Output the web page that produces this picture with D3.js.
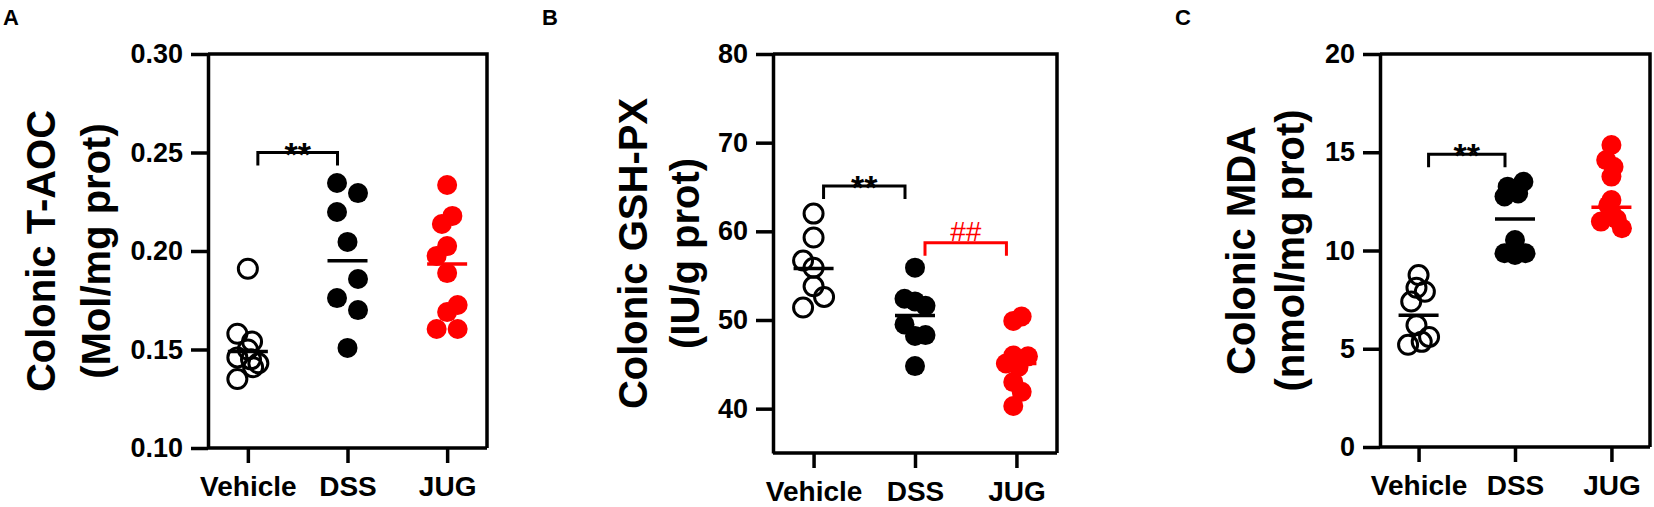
<!DOCTYPE html>
<html>
<head>
<meta charset="utf-8">
<script src="https://cdn.jsdelivr.net/npm/d3@7"></script>
<style>
  body { margin: 0; background: #fff; }
  text { font-family: "Liberation Sans", Arial, sans-serif; }
</style>
</head>
<body>
<script>
// groups on the x axis
var categories = ["Vehicle", "DSS", "JUG"];

// A: colonic T-AOC
var aVehicle = [0.191, 0.158, 0.154, 0.150, 0.146, 0.145, 0.143, 0.141, 0.135];
var aDSS     = [0.2345, 0.2294, 0.2198, 0.2046, 0.1858, 0.1761, 0.170, 0.1508];
var aJUG     = [0.2335, 0.2178, 0.2137, 0.2025, 0.1975, 0.1888, 0.1726, 0.169, 0.1604, 0.1604];
var aMeans   = [0.149, 0.195, 0.1934];
var aTicks   = [0.10, 0.15, 0.20, 0.25, 0.30];

// B: colonic GSH-PX
var bVehicle = [62.0, 59.3, 56.7, 55.9, 53.8, 52.6, 51.4];
var bDSS     = [55.9, 52.4, 52.1, 51.6, 49.5, 48.2, 48.3, 44.8];
var bJUG     = [50.4, 49.9, 46.0, 45.9, 45.1, 44.7, 43.0, 41.9, 40.3];
var bMeans   = [55.8, 50.5, 45.1];
var bTicks   = [40, 50, 60, 70, 80];

// C: colonic MDA
var cVehicle = [8.75, 8.1, 7.9, 7.4, 6.2, 5.6, 5.35, 5.2];
var cDSS     = [13.5, 13.25, 12.9, 12.75, 10.53, 9.86, 9.86, 9.77];
var cJUG     = [15.37, 14.6, 14.26, 13.76, 12.57, 12.3, 11.9, 11.6, 11.47, 11.13];
var cMeans   = [6.7, 11.6, 12.2];
var cTicks   = [0, 5, 10, 15, 20];

// horizontal scatter of the dots, in dot widths (-1 left, 0 centre, 1 right)
var aJitter = [[0, -1, 0.4, 0, -1, 0.3, 1, 0.5, -1],
               [-1, 1, -1, 0, 1, -1, 1, 0],
               [0, 0.5, -0.5, 0, -1, 0, 1, 0, -1, 1]];
var bJitter = [[0, 0, -1, 0, 0, 1, -1],
               [0, -1, 0, 1, -1, 0, 1, 0],
               [0.5, -0.3, -0.3, 1.1, -1, 0.2, -0.3, 0.5, -0.3]];
var cJitter = [[0, -0.2, 0.6, -0.7, -0.2, 1, 0.3, -1],
               [0.8, -0.7, 0.3, -1, 0, -1, 1, 0],
               [0, -0.5, 0.2, 0, 0, -0.3, 0, 0.5, -1, 1]];

// significance brackets: [from group, to group, y value, label, colour]
var aMarks = [[0, 1, 0.25, "**", "#000"]];
var bMarks = [[0, 1, 65.1, "**", "#000"], [1, 2, 58.7, "##", "#ff0000"]];
var cMarks = [[0, 1, 14.9, "**", "#000"]];

var red = "#ff0000";
var groupStyle = [
    {fill: "none", stroke: "#000"},
    {fill: "#000", stroke: "none"},
    {fill: red, stroke: "none"}
];
var meanColor = ["#000", "#000", red];

var svg = d3.select("body").append("svg")
    .attr("width", 1654)
    .attr("height", 507);

var panels = [
    {letter: "A", letterX: 3, left: 208, right: 487, bottom: 448,
     domain: [0.10, 0.30], ticks: aTicks, fmt: d3.format(".2f"),
     title: ["Colonic T-AOC", "(Mol/mg prot)"], titleX: [55, 110],
     groups: [aVehicle, aDSS, aJUG], jitter: aJitter, means: aMeans, marks: aMarks},
    {letter: "B", letterX: 542, left: 773, right: 1057, bottom: 453,
     domain: [35, 80], ticks: bTicks, fmt: d3.format("d"),
     title: ["Colonic GSH-PX", "(IU/g prot)"], titleX: [647, 699],
     groups: [bVehicle, bDSS, bJUG], jitter: bJitter, means: bMeans, marks: bMarks},
    {letter: "C", letterX: 1175, left: 1380, right: 1650, bottom: 447,
     domain: [0, 20], ticks: cTicks, fmt: d3.format("d"),
     title: ["Colonic MDA", "(nmol/mg prot)"], titleX: [1255, 1304],
     groups: [cVehicle, cDSS, cJUG], jitter: cJitter, means: cMeans, marks: cMarks}
];

var plotTop = 54;
var r = 10;
var lw = 3.5;

panels.forEach(function(p) {
    var xScale = d3.scalePoint().domain(categories)
        .range([p.left, p.right]).padding(0.4);
    var yScale = d3.scaleLinear().domain(p.domain).range([p.bottom, plotTop]);

    var g = svg.append("g");

    g.append("text")
        .attr("x", p.letterX)
        .attr("y", 25)
        .style("font-size", "22px")
        .style("font-weight", "bold")
        .text(p.letter);

    // y title, two lines
    p.title.forEach(function(t, i) {
        g.append("text")
            .attr("transform", "translate(" + p.titleX[i] + "," + ((plotTop + p.bottom) / 2) + ") rotate(-90)")
            .attr("text-anchor", "middle")
            .style("font-size", "40px")
            .style("font-weight", "bold")
            .text(t);
    });

    // frame top + right
    g.append("path")
        .attr("d", "M" + p.left + "," + plotTop + "H" + p.right + "V" + p.bottom)
        .attr("fill", "none")
        .attr("stroke", "#000")
        .attr("stroke-width", lw);

    var yAxis = d3.axisLeft(yScale)
        .tickValues(p.ticks)
        .tickFormat(p.fmt)
        .tickSize(17)
        .tickSizeOuter(0)
        .tickPadding(8);

    var ya = g.append("g")
        .attr("transform", "translate(" + p.left + ",0)")
        .call(yAxis);

    var xAxis = d3.axisBottom(xScale)
        .tickSize(15)
        .tickSizeOuter(0)
        .tickPadding(13);

    var xa = g.append("g")
        .attr("transform", "translate(0," + p.bottom + ")")
        .call(xAxis);

    [ya, xa].forEach(function(a) {
        a.selectAll("path, line")
            .attr("stroke", "#000")
            .attr("stroke-width", lw);
        a.selectAll("text")
            .attr("fill", "#000")
            .style("font-weight", "bold")
            .style("font-family", "'Liberation Sans', Arial, sans-serif");
    });
    ya.selectAll("text").style("font-size", "27px");
    xa.selectAll("text").style("font-size", "28px");
    xa.select(".domain").attr("d", "M" + p.left + ",0H" + p.right);

    // dots
    p.groups.forEach(function(vals, gi) {
        var st = groupStyle[gi];
        var cx = xScale(categories[gi]);
        g.selectAll(null)
            .data(vals)
            .enter().append("circle")
            .attr("cx", function(d, i) { return cx + p.jitter[gi][i] * 10.5; })
            .attr("cy", function(d) { return yScale(d); })
            .attr("r", st.fill === "none" ? 9.5 : r)
            .attr("fill", st.fill)
            .attr("stroke", st.stroke)
            .attr("stroke-width", 3);
    });

    // mean lines
    g.selectAll(null)
        .data(p.means)
        .enter().append("line")
        .attr("x1", function(d, i) { return xScale(categories[i]) - 20; })
        .attr("x2", function(d, i) { return xScale(categories[i]) + 20; })
        .attr("y1", function(d) { return yScale(d); })
        .attr("y2", function(d) { return yScale(d); })
        .attr("stroke", function(d, i) { return meanColor[i]; })
        .attr("stroke-width", lw);

    // brackets
    p.marks.forEach(function(m) {
        var x1 = xScale(categories[m[0]]) + 10,
            x2 = xScale(categories[m[1]]) - 10,
            y = yScale(m[2]);
        g.append("path")
            .attr("d", "M" + x1 + "," + (y + 13) + "V" + y + "H" + x2 + "V" + (y + 13))
            .attr("fill", "none")
            .attr("stroke", m[4])
            .attr("stroke-width", 3);
        var stars = m[3] === "**";
        g.append("text")
            .attr("x", (x1 + x2) / 2)
            .attr("y", stars ? y + 13 : y - 2)
            .attr("text-anchor", "middle")
            .attr("fill", m[4])
            .style("font-size", stars ? "34px" : "28px")
            .style("font-weight", stars ? "bold" : "normal")
            .text(m[3]);
    });
});
</script>
</body>
</html>
